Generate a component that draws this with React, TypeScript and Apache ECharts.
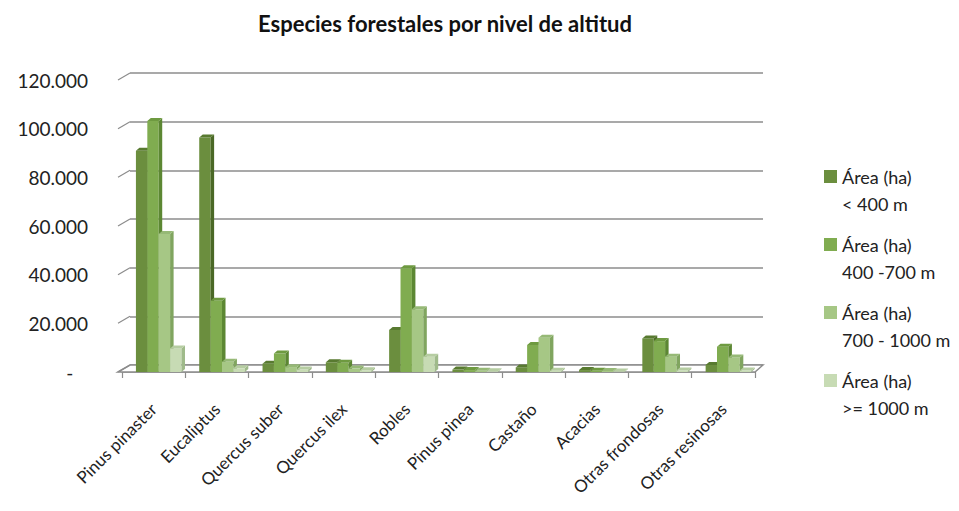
import React, { useEffect, useRef } from "react";
import * as echarts from "echarts";

const title = "Especies forestales por nivel de altitud";
const categories = [
  "Pinus pinaster",
  "Eucaliptus",
  "Quercus suber",
  "Quercus ilex",
  "Robles",
  "Pinus pinea",
  "Castaño",
  "Acacias",
  "Otras frondosas",
  "Otras resinosas",
];
const seriesNames = [
  "Área (ha) < 400 m",
  "Área (ha) 400 -700 m",
  "Área (ha) 700 - 1000 m",
  "Área (ha) >= 1000 m",
];
const below400 = [90900, 96400, 3400, 4000, 17300, 1000, 1900, 800, 13800, 2900];
const from400to700 = [103100, 29300, 7600, 3800, 42600, 800, 11100, 500, 12700, 10400];
const from700to1000 = [56700, 4200, 2000, 1400, 25800, 500, 14100, 400, 6300, 6000];
const above1000 = [9700, 1500, 1000, 700, 6300, 300, 500, 200, 600, 600];
const yTicks = [0, 20000, 40000, 60000, 80000, 100000, 120000];

const seriesValues = [below400, from400to700, from700to1000, above1000];
const frontColors = ["#6b8e3e", "#80ac50", "#a6c785", "#c7dbb4"];
const sideColors = ["#4a6826", "#5c8733", "#80a55f", "#9fba8a"];
const topColors = ["#587a30", "#6e9a40", "#96b976", "#b6cda2"];

const DX = 8; // back-wall offset
const DY = 7;
const BDX = 3.5; // bar depth offset
const BDY = 3;

function fmt(v: number) {
  if (v === 0) return "-   ";
  return String(v).replace(/\B(?=(\d{3})+(?!\d))/g, ".");
}

export default function App() {
  const ref = useRef<HTMLDivElement>(null);
  useEffect(() => {
    if (!ref.current) return;
    const chart = echarts.init(ref.current, null, { renderer: "svg" });
    const font = "Lato, 'Noto Sans', sans-serif";
    const yMax = yTicks[yTicks.length - 1];
    const yInt = yTicks[1] - yTicks[0];

    const barSeries = seriesValues.map((vals, s) => ({
      type: "custom",
      name: seriesNames[s],
      xAxisIndex: 1,
      yAxisIndex: 1,
      itemStyle: { color: frontColors[s] },
      data: vals.map((v, i) => [i, v]),
      z: 5,
      renderItem: (params: any, api: any) => {
        const idx = api.value(0);
        const v = api.value(1);
        const base = api.coord([idx, 0]);
        const top = api.coord([idx, v]);
        const band = api.size([1, 0])[0];
        const w = band * 0.18;
        const left = base[0] - band / 2 + band * 0.22 + s * w;
        const t = top[1];
        const b = base[1];
        return {
          type: "group",
          children: [
            {
              type: "rect",
              shape: { x: left, y: t, width: w, height: b - t },
              style: { fill: frontColors[s] },
            },
            {
              type: "polygon",
              shape: {
                points: [
                  [left + w, t],
                  [left + w + BDX, t - BDY],
                  [left + w + BDX, b - BDY],
                  [left + w, b],
                ],
              },
              style: { fill: sideColors[s] },
            },
            {
              type: "polygon",
              shape: {
                points: [
                  [left, t],
                  [left + BDX, t - BDY],
                  [left + w + BDX, t - BDY],
                  [left + w, t],
                ],
              },
              style: { fill: topColors[s] },
            },
          ],
        };
      },
    }));

    const floorSeries = {
      type: "custom",
      name: "floor",
      xAxisIndex: 1,
      yAxisIndex: 1,
      silent: true,
      z: 2,
      data: [[0, 0]],
      renderItem: (params: any, api: any) => {
        const cs = params.coordSys;
        const y = cs.y + cs.height;
        return {
          type: "polygon",
          shape: {
            points: [
              [cs.x - 4, y],
              [cs.x + DX, y - DY],
              [cs.x + cs.width + DX, y - DY],
              [cs.x + cs.width, y],
            ],
          },
          style: { fill: "#ffffff", stroke: "#8c8c8c", lineWidth: 1.5 },
        };
      },
    };

    const connectorSeries = {
      type: "custom",
      name: "connectors",
      xAxisIndex: 1,
      yAxisIndex: 1,
      silent: true,
      z: 3,
      data: yTicks.map((v) => [0, v]),
      renderItem: (params: any, api: any) => {
        const cs = params.coordSys;
        const p = api.coord([0, api.value(1)]);
        return {
          type: "line",
          shape: { x1: cs.x - 4, y1: p[1], x2: cs.x + DX, y2: p[1] - DY },
          style: { stroke: "#8c8c8c", lineWidth: 1.2 },
        };
      },
    };

    chart.setOption({
      animation: false,
      backgroundColor: "#ffffff",
      title: {
        text: title,
        left: 258,
        top: 12,
        padding: 0,
        textStyle: { fontFamily: font, fontWeight: "bold", fontSize: 22, color: "#111" },
      },
      legend: {
        data: seriesNames,
        orient: "vertical",
        left: 819,
        top: 131,
        icon: "rect",
        itemWidth: 13,
        itemHeight: 13,
        itemGap: -13,
        formatter: (n: string) => " \n" + n.replace("(ha) ", "(ha)\n"),
        textStyle: {
          fontFamily: font,
          fontSize: 18,
          lineHeight: 27,
          color: "#222",
        },
      },
      grid: [
        { left: 122 + DX, top: 80 - DY, width: 633, height: 292 },
        { left: 122, top: 80, width: 633, height: 292 },
      ],
      xAxis: [
        {
          type: "category",
          gridIndex: 0,
          data: categories,
          show: false,
        },
        {
          type: "category",
          gridIndex: 1,
          data: categories,
          axisLine: { show: true, lineStyle: { color: "#8c8c8c", width: 1.5 } },
          axisTick: { show: true, length: 6, lineStyle: { color: "#8c8c8c", width: 1.2 } },
          axisLabel: {
            rotate: 45,
            margin: 34,
            fontFamily: font,
            fontSize: 17,
            color: "#222",
            interval: 0,
          },
        },
      ],
      yAxis: [
        {
          type: "value",
          gridIndex: 0,
          min: 0,
          max: yMax,
          interval: yInt,
          axisLine: { show: false },
          axisTick: { show: false },
          axisLabel: { show: false },
          splitLine: { show: true, lineStyle: { color: "#8c8c8c", width: 1.5 } },
        },
        {
          type: "value",
          gridIndex: 1,
          min: 0,
          max: yMax,
          interval: yInt,
          axisLine: { show: false },
          axisTick: { show: false },
          splitLine: { show: false },
          axisLabel: {
            margin: 34,
            fontFamily: font,
            fontSize: 19,
            color: "#222",
            formatter: (v: number) => fmt(v),
          },
        },
      ],
      series: [floorSeries, connectorSeries, ...barSeries],
    });
    return () => chart.dispose();
  }, []);
  return (
    <div
      ref={ref}
      style={{ position: "fixed", left: 0, top: 0, width: 959, height: 511, background: "#fff" }}
    />
  );
}
